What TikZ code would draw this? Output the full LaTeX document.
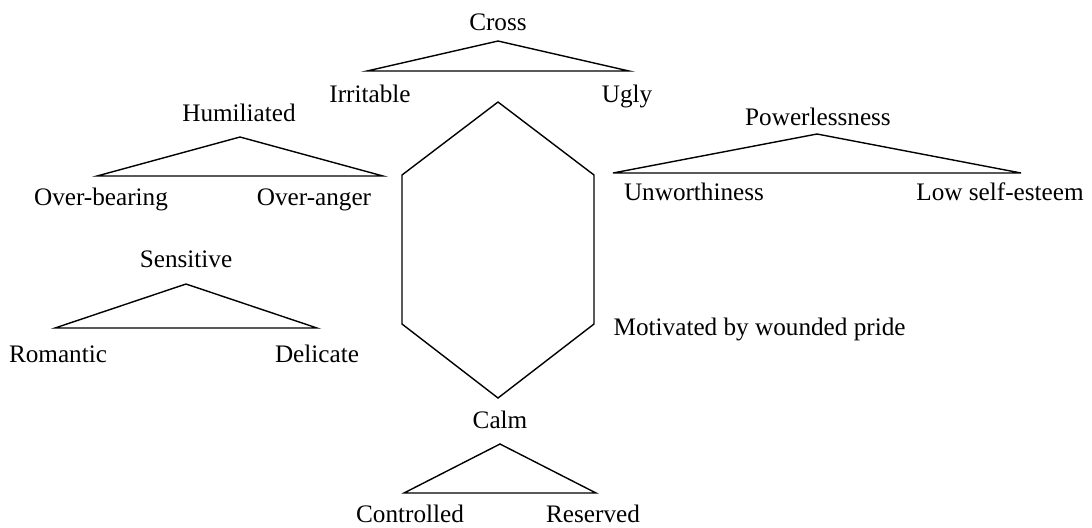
\documentclass[tikz,border=0pt]{standalone}
\usepackage{fontspec}
\setmainfont{Liberation Serif}
\begin{document}
\begin{tikzpicture}[x=0.5pt,y=-0.5pt,line width=0.7pt,
  word/.style={anchor=base,inner sep=0pt,font=\fontsize{12.6}{15}\selectfont}]
\useasboundingbox (0,0) rectangle (1092,527);
% central hexagon
\draw (498,102) -- (594,175) -- (594,324) -- (498,398) -- (402,324) -- (402,175) -- cycle;
\node[word,anchor=base west] (pride) at (613,335) {Motivated by wounded pride};
% cross
\node[word] (cross) at (498,30) {Cross};
\coordinate (crossTop) at (498,41);
\coordinate (crossL) at (367,71);
\coordinate (crossR) at (629,71);
\draw (crossTop) -- (crossR) -- (crossL) -- cycle;
\node[word] (irritable) at (370,102) {Irritable};
\node[word] (ugly) at (627,102) {Ugly};
% humiliated
\node[word] (humiliated) at (239,121) {Humiliated};
\coordinate (humTop) at (240,137);
\coordinate (humL) at (97,176);
\coordinate (humR) at (383,176);
\draw (humTop) -- (humR) -- (humL) -- cycle;
\node[word] (overbearing) at (101,205) {Over-bearing};
\node[word] (overanger) at (314,205) {Over-anger};
% sensitive
\node[word] (sensitive) at (186,267) {Sensitive};
\coordinate (senTop) at (186,284);
\coordinate (senL) at (55,328);
\coordinate (senR) at (317,328);
\draw (senTop) -- (senR) -- (senL) -- cycle;
\node[word] (romantic) at (58,362) {Romantic};
\node[word] (delicate) at (317,362) {Delicate};
% powerlessness
\node[word] (power) at (818,125) {Powerlessness};
\coordinate (powTop) at (817,134);
\coordinate (powL) at (613,173);
\coordinate (powR) at (1021,173);
\draw (powTop) -- (powR) -- (powL) -- cycle;
\node[word] (unworthy) at (694,200) {Unworthiness};
\node[word] (lowself) at (1000,200) {Low self-esteem};
% calm
\node[word] (calm) at (500,428) {Calm};
\coordinate (calmTop) at (500,444);
\coordinate (calmL) at (404,493);
\coordinate (calmR) at (596,493);
\draw (calmTop) -- (calmR) -- (calmL) -- cycle;
\node[word] (controlled) at (410,522) {Controlled};
\node[word] (reserved) at (593,522) {Reserved};
\end{tikzpicture}
\end{document}
